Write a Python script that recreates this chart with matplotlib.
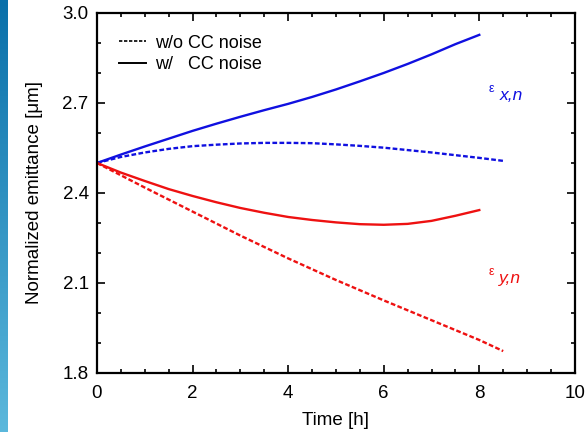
import numpy as np
import matplotlib
matplotlib.use("Agg")
import matplotlib.pyplot as plt
from matplotlib.ticker import MultipleLocator
from matplotlib.colors import LinearSegmentedColormap

plt.rcParams['font.family'] = ['Liberation Sans', 'DejaVu Sans']

# Data
t_x_cc = [0, 0.5, 1, 1.5, 2, 2.5, 3, 3.5, 4, 4.5, 5, 5.5, 6, 6.5, 7, 7.5, 8]
ex_cc = [2.500, 2.528, 2.555, 2.581, 2.607, 2.631, 2.654, 2.676, 2.697,
         2.720, 2.745, 2.772, 2.800, 2.830, 2.862, 2.896, 2.927]
t_x_nocc = [0, 0.5, 1, 1.5, 2, 2.5, 3, 3.5, 4, 4.5, 5, 5.5, 6, 6.5, 7, 7.5, 8, 8.5]
ex_nocc = [2.500, 2.520, 2.535, 2.547, 2.556, 2.561, 2.565, 2.567, 2.567,
           2.566, 2.562, 2.557, 2.551, 2.543, 2.535, 2.526, 2.517, 2.507]
t_y_cc = [0, 0.5, 1, 1.5, 2, 2.5, 3, 3.5, 4, 4.5, 5, 5.5, 6, 6.5, 7, 7.5, 8]
ey_cc = [2.500, 2.468, 2.440, 2.413, 2.390, 2.369, 2.350, 2.334, 2.320,
         2.310, 2.302, 2.296, 2.294, 2.297, 2.307, 2.324, 2.343]
t_y_nocc = [0, 0.5, 1, 1.5, 2, 3, 4, 5, 6, 7, 8, 8.5]
ey_nocc = [2.500, 2.459, 2.418, 2.378, 2.338, 2.258, 2.182, 2.110, 2.042,
           1.976, 1.910, 1.873]

legend_labels = ["w/o CC noise", "w/   CC noise"]
xticks = [0, 2, 4, 6, 8, 10]
yticks = [1.8, 2.1, 2.4, 2.7, 3.0]

BLUE = '#1010e0'
RED = '#ee1111'

fig = plt.figure(figsize=(5.86, 4.32), dpi=100)

# slide background strip on the left edge
strip = fig.add_axes([0, 0, 0.012, 1])
grad = np.linspace(0, 1, 256).reshape(-1, 1)
cmap = LinearSegmentedColormap.from_list('s', ['#5bb8dc', '#0a70aa'])
strip.imshow(grad, aspect='auto', cmap=cmap, origin='lower')
strip.axis('off')

ax = fig.add_axes([0.1655, 0.1366, 0.8155, 0.8334])

dash = (0, (2.0, 1.0))
ax.plot(t_x_cc, ex_cc, color=BLUE, lw=1.7, ls='-')
ax.plot(t_x_nocc, ex_nocc, color=BLUE, lw=1.7, ls=dash)
ax.plot(t_y_cc, ey_cc, color=RED, lw=1.7, ls='-')
ax.plot(t_y_nocc, ey_nocc, color=RED, lw=1.7, ls=dash)

# legend (black handles)
h1, = ax.plot([], [], color='black', lw=1.2, ls=dash)
h2, = ax.plot([], [], color='black', lw=1.4, ls='-')
ax.legend([h1, h2], legend_labels, loc='upper left', frameon=False,
          fontsize=13, handlelength=1.5, handletextpad=0.5,
          borderaxespad=0.3, labelspacing=0.25, bbox_to_anchor=(0.02, 0.975))

ax.set_xlim(0, 10)
ax.set_ylim(1.8, 3.0)
ax.set_xticks(xticks)
ax.set_yticks(yticks)
ax.set_yticklabels([f"{v:.1f}" for v in yticks])
ax.xaxis.set_minor_locator(MultipleLocator(0.5))
ax.yaxis.set_minor_locator(MultipleLocator(0.1))
ax.tick_params(which='both', direction='in', top=True, right=True, width=1.2)
ax.tick_params(which='major', length=6, labelsize=13.5)
ax.tick_params(axis='x', which='major', pad=9)
ax.tick_params(axis='y', which='major', pad=6)
ax.tick_params(which='minor', length=3)
for s in ax.spines.values():
    s.set_linewidth(1.6)

ax.set_xlabel("Time [h]", fontsize=13.5, labelpad=7)
ax.set_ylabel("Normalized emittance [μm]", fontsize=13.5, labelpad=14)

# curve labels
ax.text(8.2, 2.745, "ε", color=BLUE, fontsize=9, ha='left', va='center')
ax.text(8.42, 2.725, "x,n", color=BLUE, fontsize=12.5, style='italic', ha='left', va='center')
ax.text(8.2, 2.135, "ε", color=RED, fontsize=9, ha='left', va='center')
ax.text(8.42, 2.115, "y,n", color=RED, fontsize=12.5, style='italic', ha='left', va='center')

fig.savefig("out.png", dpi=100)
